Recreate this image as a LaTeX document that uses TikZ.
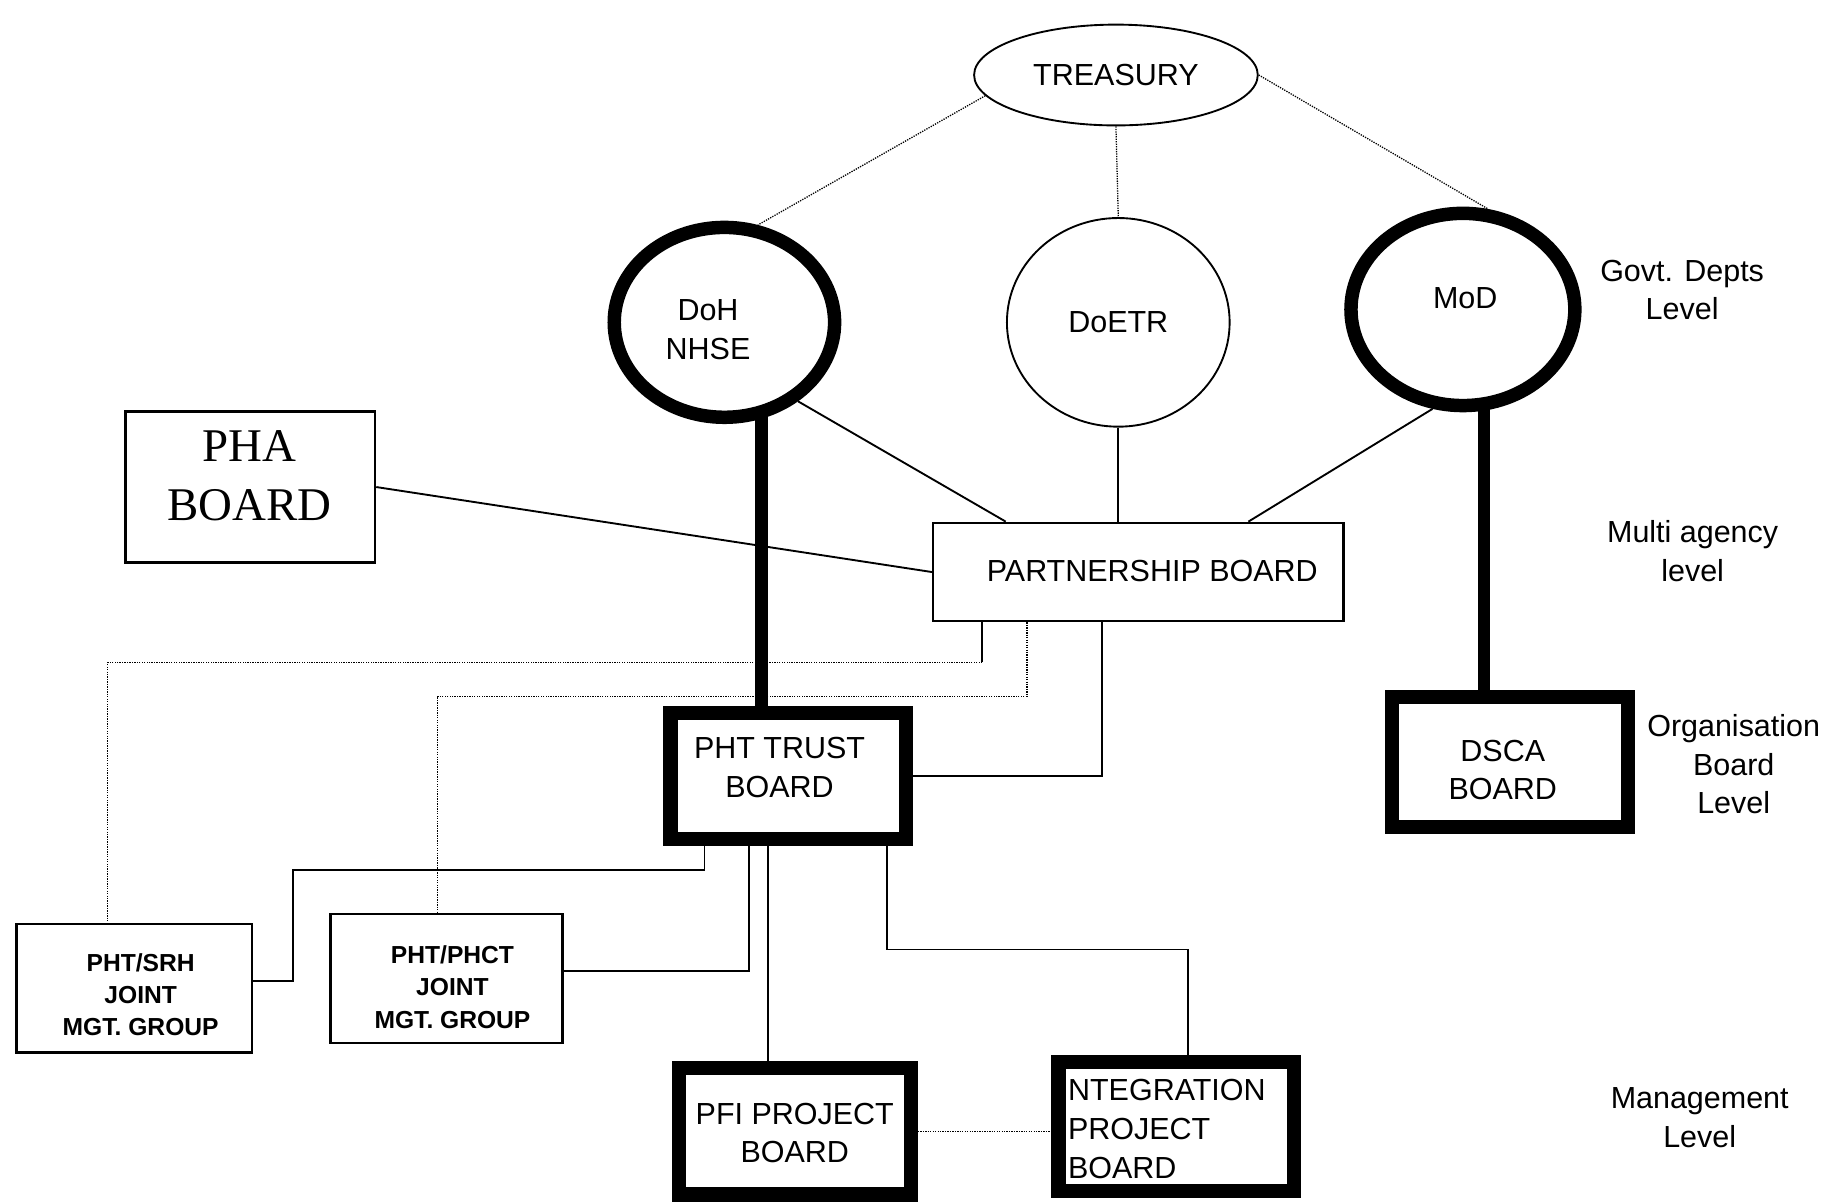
\documentclass[tikz,border=0pt]{standalone}
\usepackage{fontspec}
\setmainfont{Liberation Sans}
\newfontfamily\phaserif{Liberation Serif}
\usetikzlibrary{shapes.geometric}
\begin{document}
\begin{tikzpicture}[x=1pt,y=-1pt,
  every node/.style={inner sep=0pt},
  lbl/.style={font=\fontsize{26}{33}\selectfont, align=center},
  smalllbl/.style={font=\bfseries\fontsize{21}{27.5}\selectfont, align=center},
  oval/.style={ellipse, draw, line width=1.6pt},
  ring/.style={ellipse, draw, line width=11.5pt},
  thinbox/.style={rectangle, draw, line width=2pt},
  heavybox/.style={rectangle, draw, line width=12pt},
  conn/.style={line width=1.6pt},
  heavyconn/.style={line width=11pt},
  dotconn/.style={densely dotted, line width=1.1pt}]
\useasboundingbox (0,0) rectangle (1568,1027);
% helper x positions
\coordinate (x92) at (92,0);
\coordinate (x373) at (373,0);
\coordinate (x601) at (601,0);
\coordinate (x639) at (639,0);
\coordinate (x650) at (650,0);
\coordinate (x655) at (655,0);
\coordinate (x757) at (757,0);
\coordinate (x838) at (838,0);
\coordinate (x876) at (876,0);
\coordinate (x940) at (940,0);
\coordinate (x1266) at (1266,0);

% government level
\node[oval, minimum width=242pt, minimum height=86pt, lbl] (treasury) at (952,64) {TREASURY};
\node[ring, minimum width=188pt, minimum height=162pt] (doh) at (618,275) {};
\node[lbl] (dohtxt) at (604,281) {DoH\\NHSE};
\node[oval, minimum width=190pt, minimum height=178pt, lbl] (doetr) at (954,275) {DoETR};
\node[ring, minimum width=191pt, minimum height=164pt] (mod) at (1248,264) {};
\node[lbl] (modtxt) at (1250,254) {MoD};

% boards
\node[thinbox, minimum width=213pt, minimum height=129pt] (pha) at (213.5,415.5) {};
\node[font=\phaserif\fontsize{40}{50}\selectfont, align=center] (phatxt) at (213,406) {PHA\\BOARD};
\node[thinbox, minimum width=350pt, minimum height=84pt] (pb) at (971,488) {};
\node[lbl] (pbtxt) at (983,487) {PARTNERSHIP BOARD};
\node[heavybox, minimum width=201pt, minimum height=108pt] (pht) at (672.5,662) {};
\node[lbl] (phttxt) at (665,655) {PHT TRUST\\BOARD};
\node[heavybox, minimum width=201pt, minimum height=111pt] (dsca) at (1288,650) {};
\node[lbl] (dscatxt) at (1282,657) {DSCA\\BOARD};
\node[thinbox, minimum width=201pt, minimum height=110pt] (srh) at (114.5,843) {};
\node[smalllbl] (srhtxt) at (120,848.5) {PHT/SRH\\JOINT\\MGT. GROUP};
\node[thinbox, minimum width=198pt, minimum height=110pt] (phct) at (381,835) {};
\node[smalllbl] (phcttxt) at (386,842) {PHT/PHCT\\JOINT\\MGT. GROUP};
\node[heavybox, minimum width=198pt, minimum height=108pt] (pfi) at (678,965) {};
\node[lbl] (pfitxt) at (678,966.5) {PFI PROJECT\\BOARD};
\node[heavybox, minimum width=201pt, minimum height=110pt] (integ) at (1003.5,961) {};
\node[lbl, anchor=west, align=left, font=\fontsize{26}{33.5}\selectfont] (integtxt) at (911,963) {NTEGRATION\\PROJECT\\BOARD};

% level labels
\node[lbl] (lv1) at (1435,247.5) {Govt. Depts\\Level};
\node[lbl] (lv2) at (1444,470) {Multi agency\\level};
\node[lbl] (lv3) at (1479,652) {Organisation\\Board\\Level};
\node[lbl] (lv4) at (1450,953.5) {Management\\Level};

% treasury dotted links
\draw[dotconn] (treasury.189) -- (doh.71);
\draw[dotconn] (treasury.south) -- (doetr.north);
\draw[dotconn] (treasury.east) -- (mod.76);

% solid links to partnership board
\draw[conn] (doh.313) -- ([xshift=-113pt]pb.north);
\draw[conn] (doetr.south) -- (doetr.south |- pb.north);
\draw[conn] (mod.253) -- ([xshift=94pt]pb.north);
\draw[conn] (pha.east) -- (pb.west);

% heavy vertical links
\draw[heavyconn] ([yshift=12pt]doh.south -| x650) -- (pht.north -| x650);
\draw[heavyconn] ([yshift=6pt]mod.south -| x1266) -- (dsca.north -| x1266);

% partnership board to lower boards
\draw[conn] (pb.south -| x940) |- (pht.east);
\draw[conn] (pb.south -| x838) -- (838,565);
\draw[dotconn] (838,565) -| (srh.north -| x92);
\draw[dotconn] (pb.south -| x876) -- (876,594) -| (phct.north -| x373);

% PHT trust board to management groups
\draw[conn] (pht.south -| x601) -- (601,742) -- (250,742) |- ([yshift=6pt]srh.east);
\draw[conn] ([yshift=7pt]phct.east) -| (pht.south -| x639);
\draw[conn] (pht.south -| x655) -- (pfi.north -| x655);
\draw[conn] (pht.south -| x757) |- (1013.5,810) -- ([xshift=10pt]integ.north);
\draw[dotconn] (pfi.east) -- (pfi.east -| integ.west);
\end{tikzpicture}
\end{document}
